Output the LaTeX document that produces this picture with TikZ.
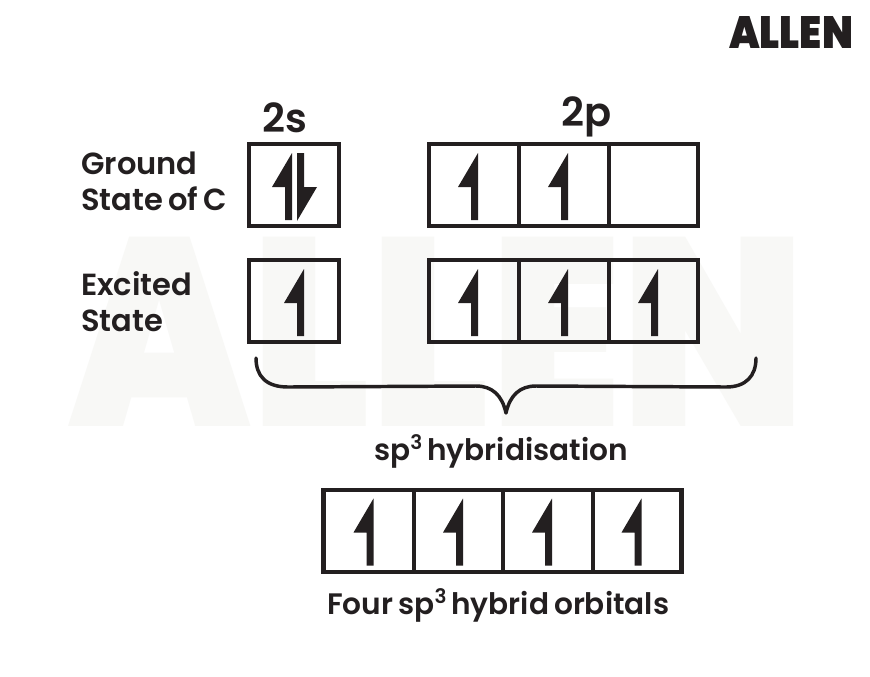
\documentclass[tikz,border=0pt]{standalone}
\usepackage{fontspec}
\setmainfont{Poppins}[BoldFont=* SemiBold,WordSpace=0.7]
\newfontfamily\logofont{Poppins}[UprightFont=* Black]
\definecolor{ink}{HTML}{231F20}
\definecolor{wm}{HTML}{F8F8F6}
\newcommand{\supthree}{\raisebox{.36em}{\fontsize{15pt}{15pt}\selectfont 3}}
\tikzset{
  x=0.75pt,y=-0.75pt,
  orbbox/.style={draw=ink,line width=3.2pt,fill=none,inner sep=0pt,minimum height=61pt},
  divider/.style={draw=ink,line width=3pt},
  lbl/.style={text=ink,anchor=base west,inner sep=0pt,font=\bfseries\fontsize{22.9pt}{27pt}\selectfont},
  lblb/.style={text=ink,anchor=base west,inner sep=0pt,font=\bfseries\fontsize{22.2pt}{27pt}\selectfont},
  head/.style={text=ink,anchor=base west,inner sep=0pt,font=\bfseries\fontsize{30pt}{35pt}\selectfont},
  bracepath/.style={draw=ink,line width=2.6pt,line cap=round,line join=round},
  harp/.style={fill=ink,draw=none}
}
\newcommand{\upharp}[2]{\fill[harp] (#1,#2) -- ++(-20,34) -- ++(13,0) -- ++(0,33) -- ++(7,0) -- cycle;}
\newcommand{\downharp}[2]{\fill[harp] (#1,#2) -- ++(7,0) -- ++(0,34) -- ++(13,0) -- ++(-20,34) -- cycle;}
\begin{document}
\begin{tikzpicture}
\useasboundingbox (0,0) rectangle (870,676);
\fill[white] (0,0) rectangle (870,676);
% watermark
\node[text=wm,inner sep=0pt,anchor=center] (wmark) at (437,332) {\resizebox{552pt}{142pt}{\logofont ALLEN}};
% logo
\node[text=ink,inner sep=0pt,anchor=center] (logo) at (791,32) {\resizebox{93pt}{24pt}{\logofont ALLEN}};
% labels
\node[lbl] (g1) at (81,174) {Ground};
\node[lbl] (g2) at (81,210) {State of C};
\node[lbl] (e1) at (81,295) {Excited};
\node[lbl] (e2) at (81,331) {State};
\node[head] (s) at (262,132) {2s};
\node[head] (p) at (561,126) {2p};
\node[lblb] (hy) at (374,460) {sp\supthree{} hybridisation};
\node[lblb] (fo) at (327,614) {Four sp\supthree{} hybrid orbitals};
% boxes
\node[orbbox,minimum width=67.5pt] (b1) at (294,185) {};
\node[orbbox,minimum width=201.75pt] (b2) at (563.5,185) {};
\node[orbbox,minimum width=67.5pt] (b3) at (294,301) {};
\node[orbbox,minimum width=201.75pt] (b4) at (563.5,301) {};
\node[orbbox,minimum width=268.5pt] (b5) at (502.5,531) {};
\foreach \b in {b2,b4}{
  \draw[divider] (\b.north west -| 518.5,0) -- (\b.south west -| 518.5,0);
  \draw[divider] (\b.north west -| 608.5,0) -- (\b.south west -| 608.5,0);
}
\foreach \xx in {413.5,503,593}{
  \draw[divider] (b5.north west -| \xx,0) -- (b5.south west -| \xx,0);
}
% arrows
\upharp{292}{153}\downharp{297}{153}
\upharp{478}{153}\upharp{568}{153}
\upharp{304}{269}\upharp{478}{269}\upharp{568}{269}\upharp{658}{269}
\upharp{373.5}{498.5}\upharp{463}{498.5}\upharp{552}{498.5}\upharp{641.5}{498.5}
% brace
\coordinate (bl) at (256,358);
\coordinate (bt) at (506,413);
\coordinate (br) at (756,358);
\draw[bracepath] (bl) .. controls (256,376) and (266,387) .. (288,387) -- (476,386)
  .. controls (492,386) and (502,395) .. (bt)
  .. controls (510,395) and (520,386) .. (536,386) -- (726,387)
  .. controls (746,387) and (756,376) .. (br);
\end{tikzpicture}
\end{document}
